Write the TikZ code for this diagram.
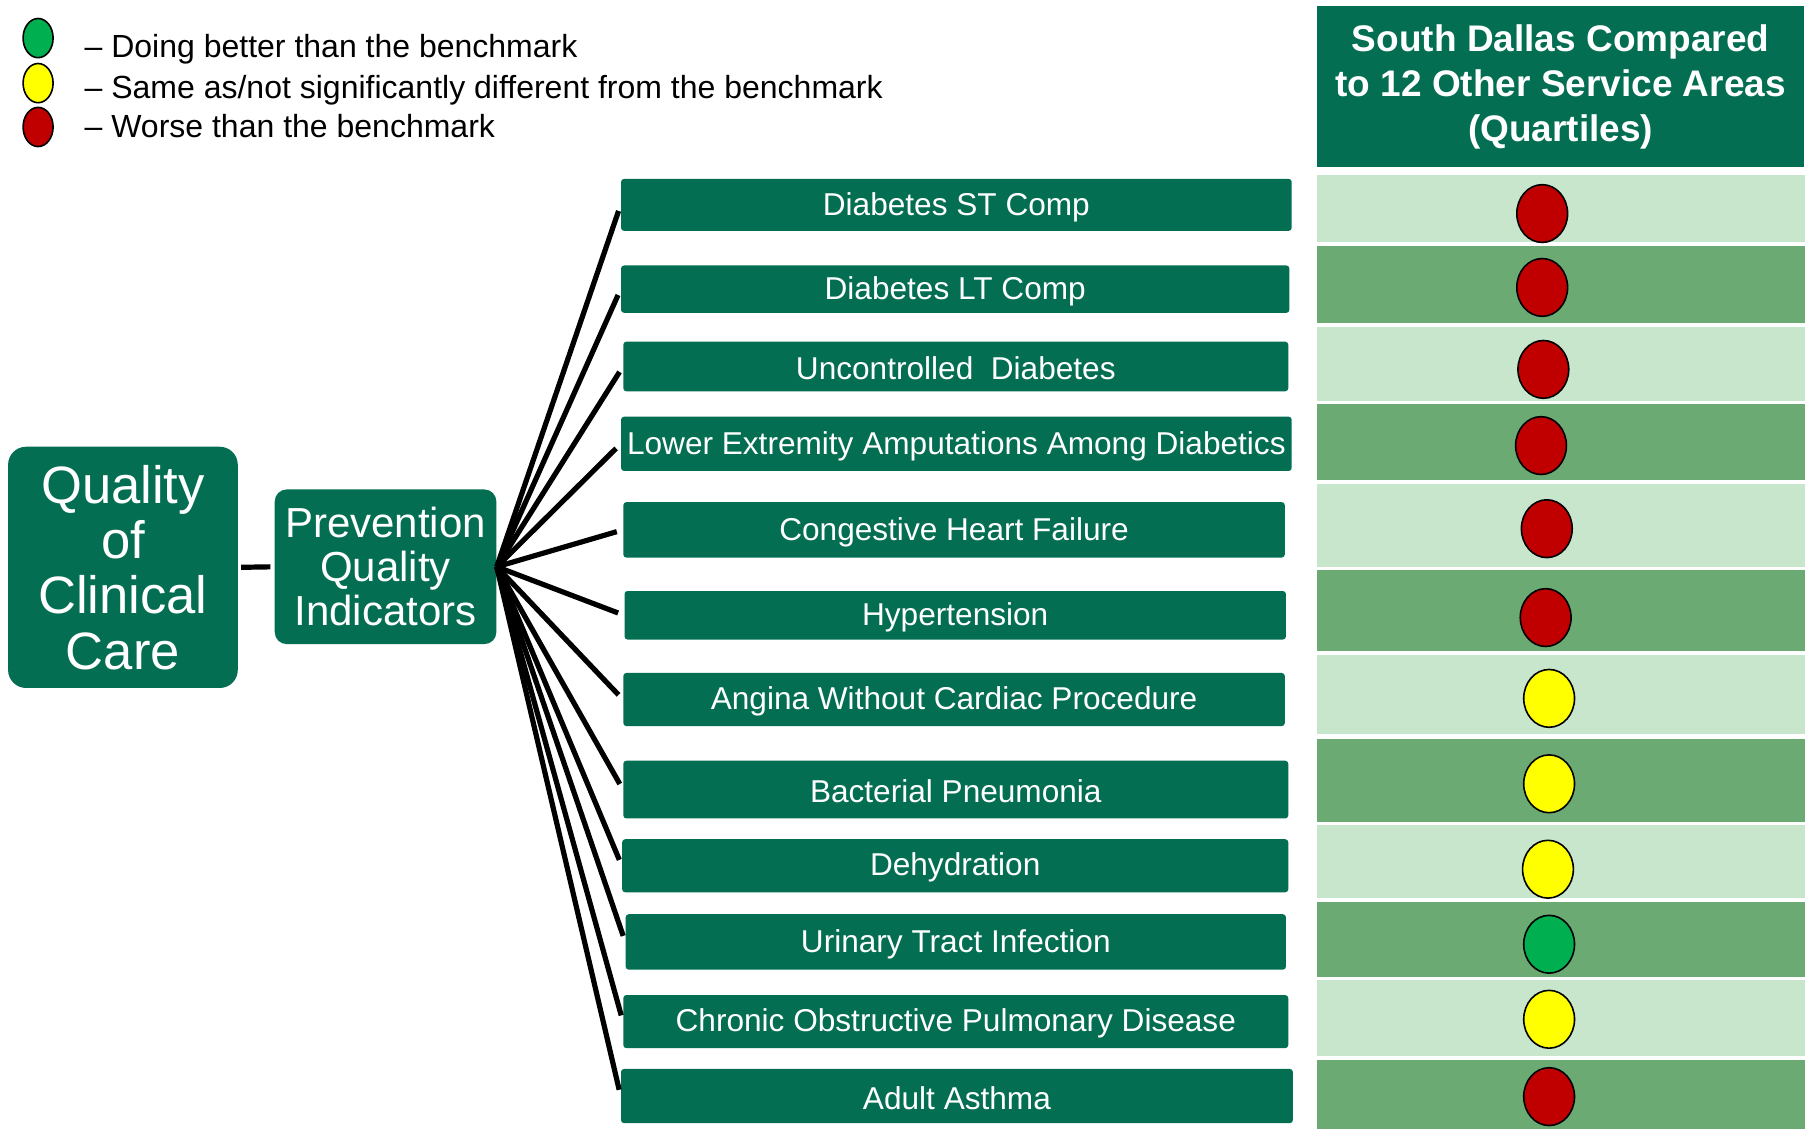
\documentclass[tikz,border=0pt]{standalone}
\usepackage{fontspec}
\setmainfont{Liberation Sans}
\usetikzlibrary{shapes.geometric,fit}
\definecolor{dkgreen}{RGB}{3,110,82}
\definecolor{ltband}{RGB}{199,230,204}
\definecolor{mdband}{RGB}{107,170,114}
\definecolor{redc}{RGB}{192,0,0}
\definecolor{yelc}{RGB}{255,255,0}
\definecolor{grnc}{RGB}{0,176,80}
\begin{document}
\begin{tikzpicture}[x=0.57715pt,y=-0.57715pt,
  indbox/.style={fill=dkgreen, inner sep=0pt, rounded corners=1.5pt},
  indtext/.style={text=white, inner sep=0pt, yshift=-1pt, font=\fontsize{15.8}{18}\selectfont},
  bigbox/.style={fill=dkgreen, inner sep=0pt},
  bigtext/.style={text=white, inner sep=0pt, align=center},
  conn/.style={line width=2.6pt, shorten >=3.2pt},
  dot/.style={ellipse, draw=black, line width=0.8pt, minimum width=25.4pt,
    minimum height=28.9pt, inner sep=0pt},
  legdot/.style={ellipse, draw=black, line width=0.8pt, minimum width=15pt,
    minimum height=19.6pt, inner sep=0pt},
  legtext/.style={anchor=west, inner sep=0pt, font=\fontsize{16}{19}\selectfont}
]
\useasboundingbox (0,0) rectangle (1568,978);

% legend
\node[legdot, fill=grnc] (lg1) at (33,33) {};
\node[legdot, fill=yelc] (lg2) at (33,72) {};
\node[legdot, fill=redc] (lg3) at (33,110) {};
\node[legtext] (lt1) at (73,43) {– Doing better than the benchmark};
\node[legtext] (lt2) at (73,78) {– Same as/not significantly different from the benchmark};
\node[legtext] (lt3) at (73,109) {– Worse than the benchmark};

% header
\node[fill=dkgreen, inner sep=0pt, fit={(1141,5)(1563,145)}] (hdr) {};
\node[text=white, align=center, inner sep=0pt,
  font=\fontsize{18.5}{22.5}\selectfont\bfseries] (hdrt) at (1352,75)
  {South Dallas Compared\\to 12 Other Service Areas\\(Quartiles)};

% bands
\fill[ltband] (1141,152) rectangle (1564,210);
\fill[mdband] (1141,213) rectangle (1564,280);
\fill[ltband] (1141,283) rectangle (1564,347);
\fill[mdband] (1141,350) rectangle (1564,416);
\fill[ltband] (1141,419) rectangle (1564,491);
\fill[mdband] (1141,494) rectangle (1564,564);
\fill[ltband] (1141,567) rectangle (1564,636);
\fill[mdband] (1141,640) rectangle (1564,712);
\fill[ltband] (1141,715) rectangle (1564,778);
\fill[mdband] (1141,781) rectangle (1564,846);
\fill[ltband] (1141,849) rectangle (1564,915);
\fill[mdband] (1141,918) rectangle (1564,978);

% dots
\node[dot, fill=redc] (c1) at (1336,185) {};
\node[dot, fill=redc] (c2) at (1336,249) {};
\node[dot, fill=redc] (c3) at (1337,320) {};
\node[dot, fill=redc] (c4) at (1335,386) {};
\node[dot, fill=redc] (c5) at (1340,458) {};
\node[dot, fill=redc] (c6) at (1339,535) {};
\node[dot, fill=yelc] (c7) at (1342,605) {};
\node[dot, fill=yelc] (c8) at (1342,679) {};
\node[dot, fill=yelc] (c9) at (1341,753) {};
\node[dot, fill=grnc] (c10) at (1342,818) {};
\node[dot, fill=yelc] (c11) at (1342,883) {};
\node[dot, fill=redc] (c12) at (1342,950) {};

% main boxes
\node[bigbox, rounded corners=9pt, fit={(7,387)(206,596)}] (qcc) {};
\node[bigtext, font=\fontsize{26.3}{27.7}\selectfont] (qcct) at (qcc.center)
  {Quality\\of\\Clinical\\Care};
\node[bigbox, rounded corners=6pt, fit={(238,424)(430,558)}] (pqi) {};
\node[bigtext, font=\fontsize{21}{21.9}\selectfont] (pqit) at (pqi.center)
  {Prevention\\Quality\\Indicators};
\draw[line width=2.6pt, shorten <=1.5pt, shorten >=2pt] (qcc.east) -- (pqi.west);

% indicator boxes
\node[indbox, fit={(538,155)(1119,200)}] (b1) {};
\node[indbox, fit={(538,230)(1117,271)}] (b2) {};
\node[indbox, fit={(540,296)(1116,339)}] (b3) {};
\node[indbox, fit={(538,361)(1119,408)}] (b4) {};
\node[indbox, fit={(540,435)(1113,483)}] (b5) {};
\node[indbox, fit={(541,512)(1114,554)}] (b6) {};
\node[indbox, fit={(540,583)(1113,629)}] (b7) {};
\node[indbox, fit={(540,659)(1116,709)}] (b8) {};
\node[indbox, fit={(539,727)(1116,773)}] (b9) {};
\node[indbox, fit={(542,792)(1114,840)}] (b10) {};
\node[indbox, fit={(540,862)(1116,908)}] (b11) {};
\node[indbox, fit={(538,926)(1120,973)}] (b12) {};

\node[indtext] (t1) at (b1.center) {Diabetes ST Comp};
\node[indtext] (t2) at (b2.center) {Diabetes LT Comp};
\node[indtext] (t3) at (b3.center) {Uncontrolled\ \ Diabetes};
\node[indtext] (t4) at (b4.center) {Lower Extremity Amputations Among Diabetics};
\node[indtext] (t5) at (b5.center) {Congestive Heart Failure};
\node[indtext] (t6) at (b6.center) {Hypertension};
\node[indtext] (t7) at (b7.center) {Angina Without Cardiac Procedure};
\node[indtext] (t8) at (b8.center) {Bacterial Pneumonia};
\node[indtext] (t9) at (b9.center) {Dehydration};
\node[indtext] (t10) at (b10.center) {Urinary Tract Infection};
\node[indtext] (t11) at (b11.center) {Chronic Obstructive Pulmonary Disease};
\node[indtext] (t12) at (b12.center) {Adult Asthma};

\foreach \i in {1,...,12} \draw[conn] (pqi.east) -- (b\i.west);
\end{tikzpicture}
\end{document}
